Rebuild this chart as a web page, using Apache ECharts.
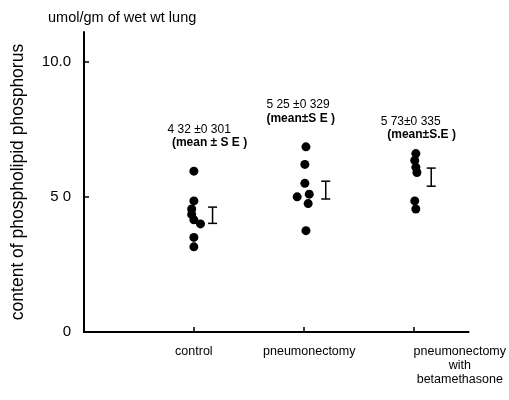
<!DOCTYPE html>
<html>
<head>
<meta charset="utf-8">
<script src="https://cdn.jsdelivr.net/npm/echarts@6/dist/echarts.min.js"></script>
<style>
  html, body { margin: 0; padding: 0; background: #fff; }
  #main { width: 509px; height: 400px; }
</style>
</head>
<body>
<div id="main"></div>
<script>
// groups on the x axis (1, 2, 3)
var categories = ['control', 'pneumonectomy', 'pneumonectomy\nwith\nbetamethasone'];
var yTickValues = [0, 5, 10];
var yTickLabels = ['0', '5 0', '10.0'];

// individual animals: [x position, umol/gm]
var controlPts = [[1.0, 5.95], [1.0, 4.85], [0.98, 4.55], [0.98, 4.35], [1.0, 4.15], [1.06, 4.0], [1.0, 3.5], [1.0, 3.15]];
var pneumoPts = [[2.02, 6.85], [2.01, 6.2], [2.01, 5.5], [1.94, 5.0], [2.05, 5.1], [2.04, 4.75], [2.02, 3.75]];
var betaPts = [[3.02, 6.6], [3.01, 6.35], [3.02, 6.1], [3.03, 5.9], [3.01, 4.85], [3.02, 4.55]];

// mean +- SE per group
var means = [4.32, 5.25, 5.73];
var ses = [0.301, 0.329, 0.335];
var barX = [1.17, 2.2, 3.16];
var meanText = ['4 32 \u00b10 301', '5 25 \u00b10 329', '5 73\u00b10 335'];
var seText = ['(mean \u00b1 S E )', '(mean\u00b1S E )', '(mean\u00b1S.E )'];

var font = 'Liberation Sans';
var dom = document.getElementById('main');
var myChart = echarts.init(dom);

var errData = [];
for (var i = 0; i < means.length; i++) {
    errData.push([barX[i], means[i] - ses[i], means[i] + ses[i]]);
}

var dotStyle = { color: '#000', opacity: 1 };

option = {
    animation: false,
    backgroundColor: '#fff',
    title: {
        text: 'umol/gm of wet wt lung',
        left: 43,
        top: 5,
        textStyle: { fontFamily: font, fontSize: 14.5, fontWeight: 'normal', color: '#000' }
    },
    grid: { left: 84, right: 39, top: 32, bottom: 68 },
    xAxis: {
        type: 'value',
        min: 0,
        max: 3.5,
        splitLine: { show: false },
        axisLine: { lineStyle: { color: '#000', width: 2 } },
        axisTick: { inside: true, length: 5, customValues: [1, 2, 3], lineStyle: { color: '#000', width: 1.5 } },
        axisLabel: {
            customValues: [1, 2.05, 3.42],
            margin: 13,
            color: '#000',
            fontFamily: font,
            fontSize: 12.5,
            lineHeight: 14,
            align: 'center',
            formatter: function (v) { return categories[Math.round(v) - 1]; }
        }
    },
    yAxis: {
        type: 'value',
        min: 0,
        max: 11.1,
        interval: 5,
        name: 'content of phospholipid phosphorus',
        nameLocation: 'middle',
        nameGap: 57,
        nameTextStyle: { fontFamily: font, fontSize: 17.5, color: '#000' },
        splitLine: { show: false },
        axisLine: { lineStyle: { color: '#000', width: 2 } },
        axisTick: { inside: true, length: 5, customValues: yTickValues, lineStyle: { color: '#000', width: 1.5 } },
        axisLabel: {
            customValues: yTickValues,
            margin: 13,
            color: '#000',
            fontFamily: font,
            fontSize: 15,
            formatter: function (v) { return yTickLabels[yTickValues.indexOf(v)]; }
        }
    },
    series: [
        { type: 'scatter', data: controlPts, symbolSize: 9, itemStyle: dotStyle },
        { type: 'scatter', data: pneumoPts, symbolSize: 9, itemStyle: dotStyle },
        { type: 'scatter', data: betaPts, symbolSize: 9, itemStyle: dotStyle },
        {
            type: 'custom',
            data: errData,
            renderItem: function (params, api) {
                var lo = api.coord([api.value(0), api.value(1)]);
                var hi = api.coord([api.value(0), api.value(2)]);
                var c = 4.5;
                var st = { stroke: '#000', lineWidth: 1.5 };
                return {
                    type: 'group',
                    children: [
                        { type: 'line', shape: { x1: lo[0], y1: lo[1], x2: hi[0], y2: hi[1] }, style: st },
                        { type: 'line', shape: { x1: lo[0] - c, y1: lo[1], x2: lo[0] + c, y2: lo[1] }, style: st },
                        { type: 'line', shape: { x1: hi[0] - c, y1: hi[1], x2: hi[0] + c, y2: hi[1] }, style: st }
                    ]
                };
            }
        }
    ]
};

myChart.setOption(option, true);

// annotation text above each group, left edge and baseline in axis units
var annoPos = [[0.76, 7.5, 0.8, 7.0], [1.66, 8.4, 1.66, 7.9], [2.7, 7.8, 2.76, 7.3]];
var graphics = [];
for (var k = 0; k < annoPos.length; k++) {
    var p1 = myChart.convertToPixel({ gridIndex: 0 }, [annoPos[k][0], annoPos[k][1]]);
    var p2 = myChart.convertToPixel({ gridIndex: 0 }, [annoPos[k][2], annoPos[k][3]]);
    graphics.push({ type: 'text', x: p1[0], y: p1[1], style: { text: meanText[k], font: '12px ' + font, fill: '#000', textVerticalAlign: 'middle' } });
    graphics.push({ type: 'text', x: p2[0], y: p2[1], style: { text: seText[k], font: 'bold 12px ' + font, fill: '#000', textVerticalAlign: 'middle' } });
}
myChart.setOption({ graphic: graphics });
</script>
</body>
</html>
